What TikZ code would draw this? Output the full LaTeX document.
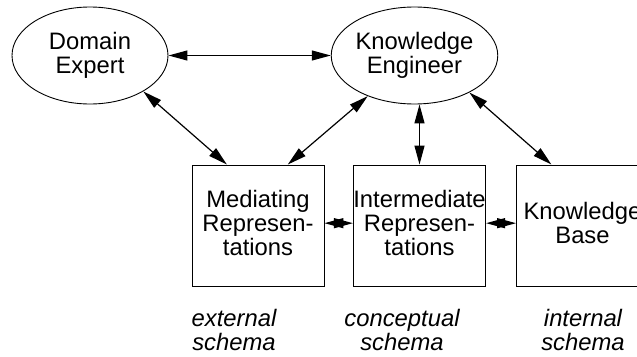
\documentclass[tikz,border=0pt]{standalone}
\usepackage{fontspec}
\setmainfont{Liberation Sans}
\usetikzlibrary{shapes.geometric,arrows.meta}
\begin{document}
\begin{tikzpicture}[x=1pt,y=-1pt,
  txt/.style={font=\fontsize{23.8}{24}\selectfont, align=center},
  agent/.style={txt, ellipse, draw, line width=0.9pt, minimum width=156pt, minimum height=97pt, inner sep=0pt},
  store/.style={txt, rectangle, draw, line width=0.9pt, minimum width=132pt, minimum height=121pt, inner sep=0pt, text depth=6pt},
  schemalabel/.style={txt, font=\fontsize{23.8}{24}\selectfont\itshape, inner sep=0pt},
  tip/.tip={Triangle[length=19pt,width=10pt]},
  link/.style={line width=1.2pt, tip-tip}
]
\useasboundingbox (0,0) rectangle (637,356);
\clip (0,0) rectangle (637,356);

% people
\node[agent] (de) at (90,55.5) {Domain\\Expert};
\node[agent] (ke) at (414.5,55.5) {Knowledge\\Engineer};

% representations
\node[store] (mr) at (258,225.5) {Mediating\\Represen-\\tations};
\node[store] (ir) at (419.5,225.5) {Intermediate\\Represen-\\tations};
\node[store] (kb) at (582.5,225.5) {Knowledge\\Base};

% schema levels
\node[schemalabel] (ext) at (234,330.3) {external\\schema};
\node[schemalabel] (con) at (402,330.3) {conceptual\\schema};
\node[schemalabel] (int) at (583,330.3) {internal\\schema};

% connections
\draw[link] (de.east) -- (ke.west);
\draw[link] (de.-34) -- (mr.117);
\draw[link] (ke.-139) -- (mr.64);
\draw[link] (ke.south -| ir.north) -- (ir.north);
\draw[link] (ke.-34.5) -- (kb.117.5);
\draw[link] (mr.2) -- (ir.178);
\draw[link] (ir.2) -- (kb.178);
\end{tikzpicture}
\end{document}
